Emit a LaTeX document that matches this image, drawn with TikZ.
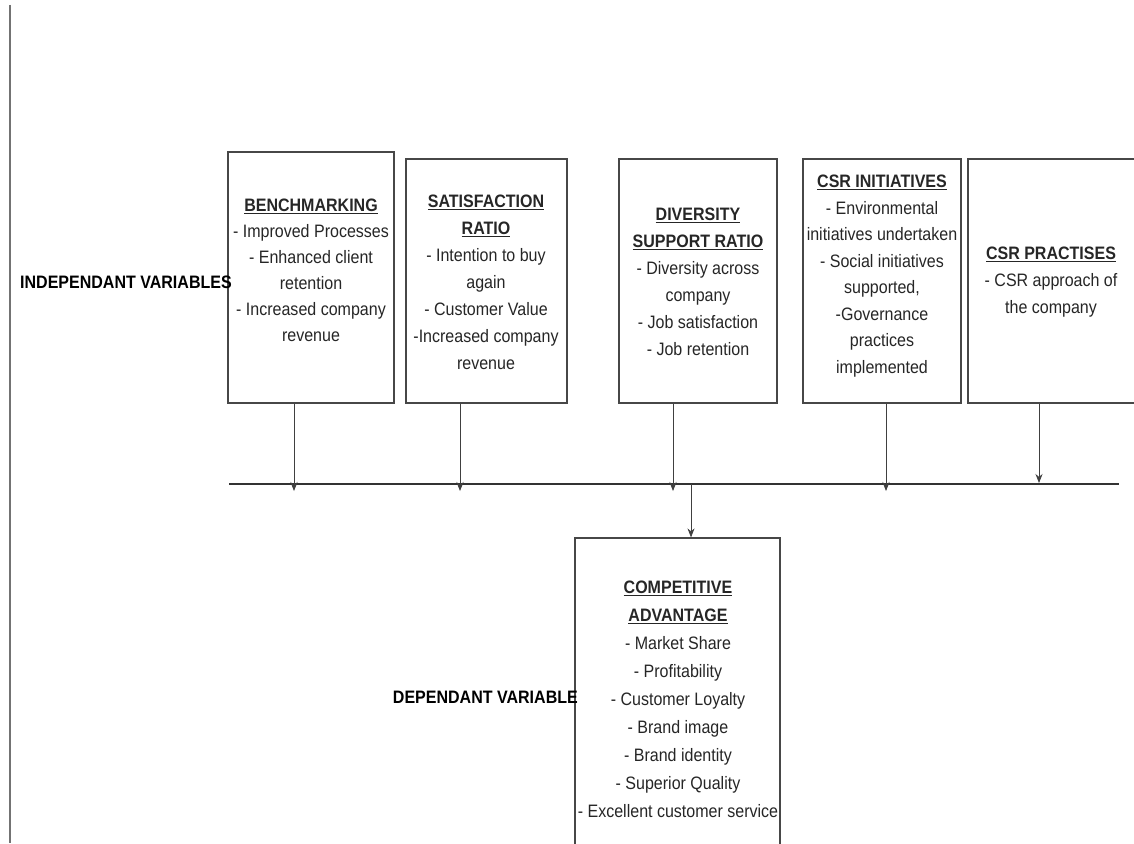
\documentclass[tikz,border=0pt]{standalone}
\usepackage{fontspec}
\setmainfont[FakeStretch=0.89]{Liberation Sans}
\usetikzlibrary{arrows.meta}
\tikzset{
  boxr/.style={draw=black!72, line width=1.2pt, inner sep=0pt, rectangle},
  txt/.style={align=center, inner sep=0pt, font=\fontsize{18}{27}\selectfont, text=black!85},
  lbl/.style={inner sep=0pt, font=\fontsize{18}{20}\selectfont\bfseries},
  arr/.style={draw=black!75, line width=0.8pt, -{Stealth[length=9pt,width=7pt]}},
  bus/.style={draw=black!80, line width=1.3pt}
}
\newcommand{\ttl}[1]{\underline{\textbf{#1}}}
\begin{document}
\begin{tikzpicture}[x=1pt,y=-1pt]
\useasboundingbox (0,0) rectangle (1134,843);
\fill[white] (0,0) rectangle (1134,843);
% left margin line
\draw[draw=black!55, line width=1.3pt] (10,5) -- (10,843);

% boxes
\node[boxr, minimum width=166pt, minimum height=251pt] (b1) at (311,277.5) {};
\node[boxr, minimum width=161pt, minimum height=244pt] (b2) at (486.5,281) {};
\node[boxr, minimum width=158pt, minimum height=244pt] (b3) at (698,281) {};
\node[boxr, minimum width=158pt, minimum height=244pt] (b4) at (882,281) {};
\node[boxr, minimum width=172pt, minimum height=244pt] (b5) at (1054,281) {};
\node[boxr, minimum width=205pt, minimum height=322pt] (b6) at (677.5,699) {};

% texts
\node[txt, font=\fontsize{18}{26}\selectfont] (t1) at (311,270) {\ttl{BENCHMARKING}\\- Improved Processes\\- Enhanced client\\retention\\- Increased company\\revenue};
\node[txt] (t2) at (486,282) {\ttl{SATISFACTION}\\\ttl{RATIO}\\- Intention to buy\\again\\- Customer Value\\-Increased company\\revenue};
\node[txt] (t3) at (698,282) {\ttl{DIVERSITY}\\\ttl{SUPPORT RATIO}\\- Diversity across\\company\\- Job satisfaction\\- Job retention};
\node[txt, font=\fontsize{18}{26.5}\selectfont] (t4) at (882,276) {\ttl{CSR INITIATIVES}\\- Environmental\\initiatives undertaken\\- Social initiatives\\supported,\\-Governance\\practices\\implemented};
\node[txt] (t5) at (1051,282) {\ttl{CSR PRACTISES}\\- CSR approach of\\the company};
\node[txt, font=\fontsize{18}{28}\selectfont] (t6) at (678,699) {\ttl{COMPETITIVE}\\\ttl{ADVANTAGE}\\- Market Share\\- Profitability\\- Customer Loyalty\\- Brand image\\- Brand identity\\- Superior Quality\\- Excellent customer service};

% labels
\node[lbl, anchor=west] (li) at (20,282) {INDEPENDANT VARIABLES};
\node[lbl, anchor=east] (ld) at (578,697) {DEPENDANT VARIABLE};

% bus
\coordinate (busL) at (229,484);
\coordinate (busR) at (1119,484);
\draw[bus] (busL) -- (busR);
\coordinate (p1) at (294,491);
\coordinate (p2) at (460,491);
\coordinate (p3) at (673,491);
\coordinate (p4) at (886,491);
\coordinate (p5) at (1039,483);
\coordinate (j) at (691,484);
\draw[arr] (b1.south -| p1) -- (p1);
\draw[arr] (b2.south -| p2) -- (p2);
\draw[arr] (b3.south -| p3) -- (p3);
\draw[arr] (b4.south -| p4) -- (p4);
\draw[arr] (b5.south -| p5) -- (p5);
\draw[arr] (j) -- (j |- b6.north);
\end{tikzpicture}
\end{document}
